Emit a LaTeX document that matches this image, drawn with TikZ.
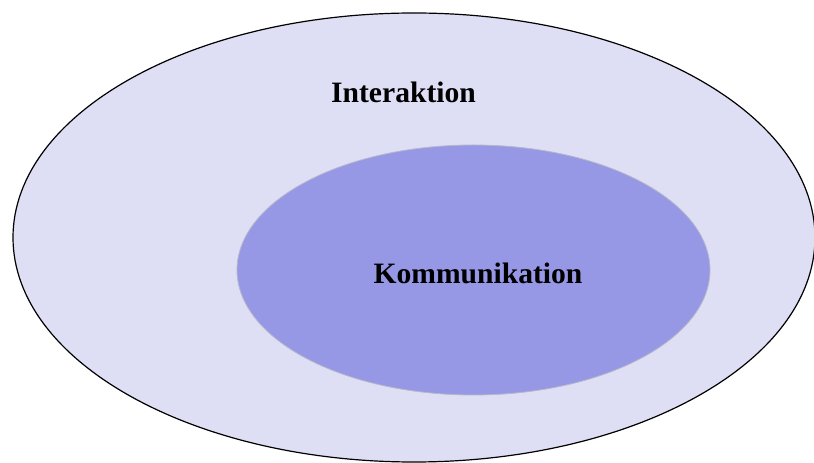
\documentclass[tikz,border=0pt]{standalone}
\usepackage{fontspec}
\setmainfont{Liberation Serif}
\definecolor{outerfill}{HTML}{DEDEF5}
\definecolor{innerfill}{HTML}{9698E6}
\definecolor{innerline}{HTML}{B8B8C8}
\tikzset{
  label text/.style={font=\fontsize{29.6}{34}\selectfont\bfseries, anchor=base, inner sep=0pt},
}
\begin{document}
\begin{tikzpicture}[x=1pt,y=1pt]
  \useasboundingbox (0,0) rectangle (814,463);
  % outer set
  \path[fill=outerfill, draw=black, line width=1.2pt] (414,225.5) ellipse [x radius=401, y radius=224.5];
  \coordinate (outer) at (414,225.5);
  % inner set
  \path[fill=innerfill, draw=innerline, line width=0.8pt] (473.5,193) ellipse [x radius=236.5, y radius=125];
  \coordinate (inner) at (473.5,193);
  \node[label text] (interaktion) at (403.5,360) {Interaktion};
  \node[label text] (kommunikation) at (478,179) {Kommunikation};
\end{tikzpicture}
\end{document}
